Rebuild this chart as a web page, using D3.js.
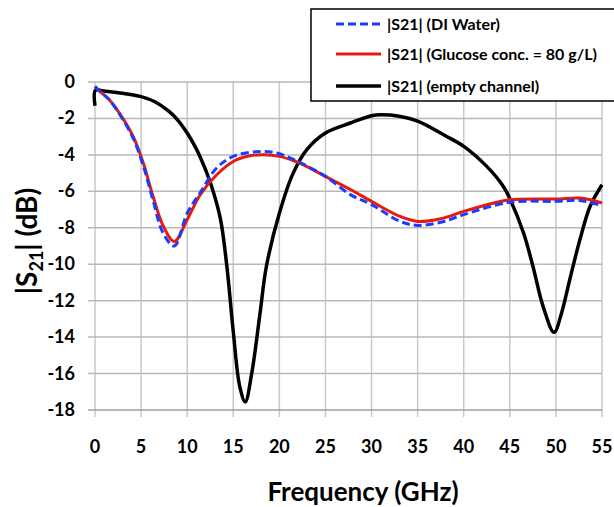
<!DOCTYPE html>
<html>
<head>
<meta charset="utf-8">
<script src="https://cdn.jsdelivr.net/npm/d3@7"></script>
<style>
  body { margin: 0; background: #fff; }
  text { font-family: Lato, "Open Sans", sans-serif; font-weight: bold; fill: #000; }
</style>
</head>
<body>
<div class="chart"></div>
<script>
// |S21| readings (GHz, dB)
var emptyFreq = [0, 0.05, 1, 3, 5, 6.5, 8, 9, 10, 10.7, 11.4, 12.5, 13.6, 14.3, 15, 15.7, 16.3, 17.0, 17.9, 18.6, 20, 21.5, 23, 25, 27.7, 30, 31, 33, 35, 38, 40, 42.5, 44.3, 45, 46.5, 47.5, 48.6, 49.8, 50.6, 51.5, 52.6, 53.7, 55];
var emptyVals = [-1.3, -0.45, -0.5, -0.62, -0.8, -1.08, -1.6, -2.1, -2.8, -3.4, -4.1, -5.5, -7.5, -10.1, -13.7, -16.7, -17.55, -16.0, -12.7, -10.1, -7.2, -5.0, -3.7, -2.8, -2.25, -1.85, -1.8, -1.88, -2.15, -2.95, -3.53, -4.63, -5.73, -6.4, -8.3, -10.1, -12.3, -13.74, -12.7, -10.85, -8.66, -6.83, -5.64];

var glucoseFreq = [0, 0.5, 1.5, 2.7, 4.15, 5.24, 6.3, 7.4, 8.6, 10, 11.4, 13.2, 15, 16.8, 18.3, 20, 22.2, 25, 27.7, 30, 33.1, 35, 37.5, 40, 43.6, 45, 50, 52.6, 55];
var glucoseVals = [-0.25, -0.5, -0.95, -1.75, -3.0, -4.45, -6.28, -7.9, -8.75, -7.56, -6.2, -5.09, -4.36, -4.05, -3.99, -4.08, -4.45, -5.18, -5.9, -6.55, -7.38, -7.65, -7.5, -7.1, -6.6, -6.46, -6.42, -6.37, -6.64];

var waterFreq = [0, 0.5, 1.5, 2.7, 4.15, 5.24, 6.3, 7.4, 8.6, 10, 11.4, 13.2, 15, 17.9, 20, 22.2, 25, 27.7, 30, 33.1, 35, 37.5, 40, 45, 50, 52.6, 55];
var waterVals = [-0.25, -0.5, -0.95, -1.8, -3.1, -4.6, -6.5, -8.3, -9.0, -7.2, -6.08, -4.72, -4.08, -3.81, -3.94, -4.41, -5.18, -6.18, -6.73, -7.65, -7.87, -7.7, -7.28, -6.6, -6.55, -6.5, -6.79];

var xTicks = [0, 5, 10, 15, 20, 25, 30, 35, 40, 45, 50, 55];
var yTicks = [0, -2, -4, -6, -8, -10, -12, -14, -16, -18];
var legendLabels = ["|S21| (DI Water)", "|S21| (Glucose conc. = 80 g/L)", "|S21| (empty channel)"];

var width = 614, height = 507;
var margin = {top: 82, right: 12, bottom: 97, left: 95};

var svg = d3.select(".chart")
    .append("svg")
    .attr("width", width)
    .attr("height", height);

var x = d3.scaleLinear().domain([0, 55]).range([margin.left, width - margin.right]);
var y = d3.scaleLinear().domain([-18, 0]).range([height - margin.bottom, margin.top]);

// grid
svg.append("g").selectAll("line")
    .data(xTicks)
    .join("line")
    .attr("x1", d => x(d)).attr("x2", d => x(d))
    .attr("y1", y(0)).attr("y2", y(-18) + 7)
    .attr("stroke", "#c8c8c8").attr("stroke-width", 1.5);

svg.append("g").selectAll("line")
    .data(yTicks)
    .join("line")
    .attr("x1", x(0) - 7).attr("x2", x(55))
    .attr("y1", d => y(d)).attr("y2", d => y(d))
    .attr("stroke", d => d === -18 ? "#a0a0a0" : "#b8b8b8").attr("stroke-width", 1.5);

// tick labels
svg.append("g").selectAll("text")
    .data(xTicks)
    .join("text")
    .attr("x", d => x(d))
    .attr("y", 453)
    .attr("text-anchor", "middle")
    .style("font-size", "18px")
    .text(d => d);

svg.append("g").selectAll("text")
    .data(yTicks)
    .join("text")
    .attr("x", 75)
    .attr("y", d => y(d) + 6)
    .attr("text-anchor", "end")
    .style("font-size", "18px")
    .text(d => d);

// axis titles
svg.append("text")
    .attr("x", 363)
    .attr("y", 501)
    .attr("text-anchor", "middle")
    .style("font-size", "26px")
    .text("Frequency (GHz)");

var yt = svg.append("text")
    .attr("transform", "translate(37,241) rotate(-90)")
    .attr("text-anchor", "middle")
    .style("font-size", "28px");
yt.append("tspan").text("|S");
yt.append("tspan").attr("dy", 6).style("font-size", "18px").text("21");
yt.append("tspan").attr("dy", -6).text("| (dB)");

// curves
var line = d3.line()
    .x(d => x(d[0]))
    .y(d => y(d[1]))
    .curve(d3.curveCatmullRom.alpha(0.5));

var series = [
  {f: waterFreq, v: waterVals, color: "#1a3cff", w: 3, dash: "8,4"},
  {f: glucoseFreq, v: glucoseVals, color: "#e8190f", w: 3, dash: null},
  {f: emptyFreq, v: emptyVals, color: "#000", w: 3.5, dash: null}
];

// draw black first, then red, then blue dashed on top
[2, 1, 0].forEach(function(i) {
  var s = series[i];
  svg.append("path")
      .datum(d3.zip(s.f, s.v))
      .attr("fill", "none")
      .attr("stroke", s.color)
      .attr("stroke-width", s.w)
      .attr("stroke-dasharray", s.dash)
      .attr("stroke-linejoin", "round")
      .attr("d", line);
});

// legend
var lg = svg.append("g");
lg.append("rect")
    .attr("x", 311).attr("y", 9)
    .attr("width", 320).attr("height", 92)
    .attr("fill", "#fff")
    .attr("stroke", "#000").attr("stroke-width", 1.5);

var rowY = [24, 54, 86];
var labels = [];
series.forEach(function(s, i) {
  lg.append("line")
      .attr("x1", 336).attr("x2", 381)
      .attr("y1", rowY[i]).attr("y2", rowY[i])
      .attr("stroke", s.color)
      .attr("stroke-width", s.w)
      .attr("stroke-dasharray", s.dash);
  labels.push(lg.append("text")
      .attr("x", 387)
      .attr("y", rowY[i] + 6)
      .style("font-size", "16px")
      .text(legendLabels[i]));
});

// fit the longest legend entry to ~210px like the original
var longest = labels[1].node().getComputedTextLength();
var fs = Math.min(18, 16 * 210 / longest);
labels.forEach(t => t.style("font-size", fs + "px"));
</script>
</body>
</html>
